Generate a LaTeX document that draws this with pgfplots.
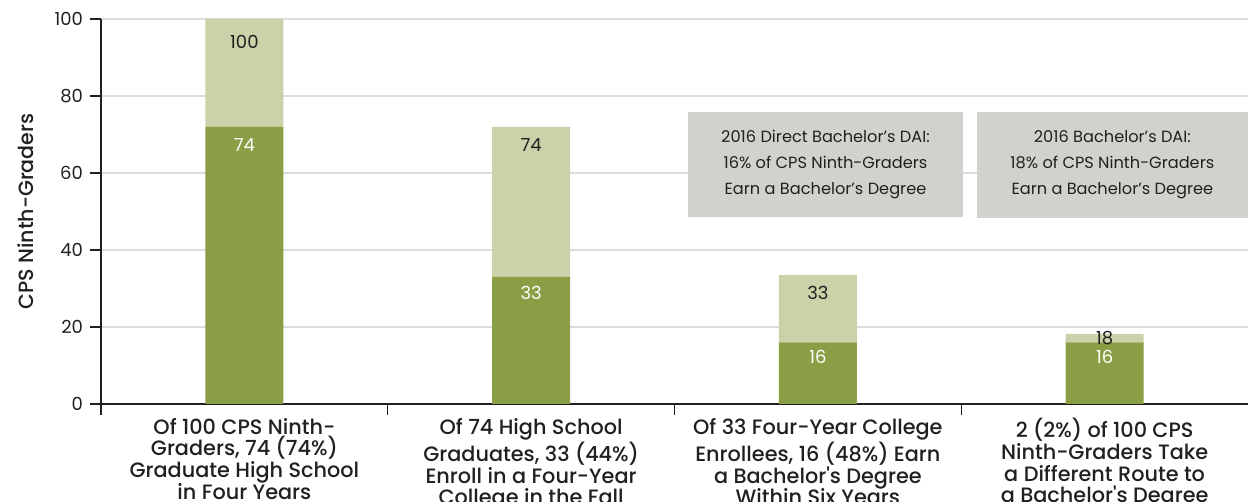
\documentclass[border=0pt]{standalone}
\usepackage{pgfplots}
\pgfplotsset{compat=1.18}
\usepackage{pgfplotstable}
\usepackage{fontspec}
\setmainfont{Poppins}
\newfontfamily\medfont{Poppins Medium}

\definecolor{dkgreen}{HTML}{8A9E45}
\definecolor{ltgreen}{HTML}{CBD1A8}
\definecolor{boxgray}{HTML}{D1D2CC}
\definecolor{txt}{HTML}{231F20}
\definecolor{gridc}{HTML}{DCDCDC}

% stacked segments, labels and label offsets from segment middle (pt)
\pgfplotstableread{
x dark light dlab llab ddy ldy
0 72 28 74 100 60.2 15.4
1 33 39 33 74 23.7 28.5
2 16 17.5 16 33 8.1 7.8
3 16 2.2 16 18 8.1 0
}\datatab

\begin{document}
\begin{tikzpicture}
\begin{axis}[
  name=ax, scale only axis, width=573.5pt, height=192.5pt,
  ybar stacked, bar width=39pt,
  xmin=-0.5, xmax=3.5, ymin=0, ymax=100,
  xtick={0,1,2,3},
  xticklabels={
    {Of 100 CPS Ninth-\\Graders, 74 (74\%)\\Graduate High School\\in Four Years},
    {Of 74 High School\\Graduates, 33 (44\%)\\Enroll in a Four-Year\\College in the Fall},
    {Of 33 Four-Year College\\Enrollees, 16 (48\%) Earn\\a Bachelor's Degree\\Within Six Years},
    {2 (2\%) of 100 CPS\\Ninth-Graders Take\\a Different Route to\\a Bachelor's Degree}},
  minor xtick={-0.5,0.5,1.5,2.5},
  ytick={0,20,...,100},
  axis x line=bottom, axis y line=left,
  axis line style={draw=txt, line width=0.7pt, -},
  tick align=outside, major tick length=5.5pt, minor tick length=5.5pt,
  tick style={draw=txt, line width=0.6pt},
  every major x tick/.style={draw=none},
  ymajorgrids, grid style={gridc, line width=0.8pt},
  yticklabel style={font=\fontsize{9}{10}\selectfont, text=txt},
  xticklabel style={font=\medfont\fontsize{10.4}{10.9}\selectfont, text=txt, align=center, yshift=2pt},
  /pgf/number format/assume math mode=true,
  ylabel={CPS Ninth-Graders},
  every axis y label/.style={at={(axis description cs:-0.066,0.5)}, rotate=90, anchor=center,
    font=\medfont\fontsize{10.3}{11}\selectfont, text=txt},
  nodes near coords, point meta=explicit symbolic,
]
\addplot[fill=dkgreen, draw=none,
  visualization depends on={\thisrow{ddy} \as \dy},
  every node near coord/.append style={anchor=center, yshift=\dy pt, text=white,
    font=\fontsize{9}{10}\selectfont}]
  table[x=x, y=dark, meta=dlab] {\datatab};
\addplot[fill=ltgreen, draw=none,
  visualization depends on={\thisrow{ldy} \as \dy},
  every node near coord/.append style={anchor=center, yshift=\dy pt, text=txt,
    font=\fontsize{9}{10}\selectfont}]
  table[x=x, y=light, meta=llab] {\datatab};

\coordinate (a1) at (axis cs:1.547,48.6);
\coordinate (b1) at (axis cs:2.506,75.8);
\coordinate (c1) at (axis cs:2.0266,62.1);
\coordinate (a2) at (axis cs:2.555,48.4);
\coordinate (b2) at (axis cs:3.5,75.8);
\coordinate (c2) at (axis cs:3.027,62.1);
\end{axis}
\fill[boxgray] (a1) rectangle (b1);
\fill[boxgray] (a2) rectangle (b2);
\node[align=center, text=txt, font=\fontsize{8.1}{13}\selectfont] at (c1)
  {2016 Direct Bachelor’s DAI:\\16\% of CPS Ninth-Graders\\Earn a Bachelor’s Degree};
\node[align=center, text=txt, font=\fontsize{8.1}{13}\selectfont] at (c2)
  {2016 Bachelor’s DAI:\\18\% of CPS Ninth-Graders\\Earn a Bachelor’s Degree};
\pgfresetboundingbox
\path[use as bounding box] ([xshift=-50.5pt,yshift=-49pt]ax.south west) rectangle ([yshift=9.5pt]ax.north east);
\end{tikzpicture}
\end{document}
